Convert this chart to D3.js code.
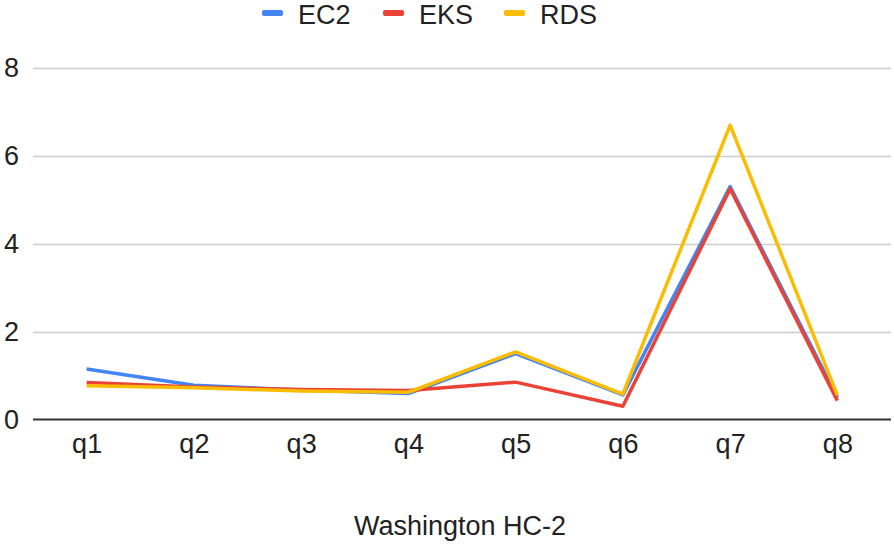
<!DOCTYPE html>
<html>
<head>
<meta charset="utf-8">
<script src="https://cdn.jsdelivr.net/npm/d3@7"></script>
<style>
  body { margin: 0; background: #fff; }
  svg { display: block; }
  text { font-family: "Liberation Sans", Arial, sans-serif; fill: #222; }
</style>
</head>
<body>
<svg id="chart" width="894" height="545"></svg>
<script>
const categories = ["q1", "q2", "q3", "q4", "q5", "q6", "q7", "q8"];
const ec2 = [1.15, 0.78, 0.67, 0.59, 1.5, 0.56, 5.3, 0.5];
const eks = [0.84, 0.74, 0.68, 0.66, 0.85, 0.3, 5.25, 0.43];
const rds = [0.77, 0.72, 0.65, 0.62, 1.54, 0.58, 6.7, 0.55];
const yTicks = [0, 2, 4, 6, 8];
const seriesNames = ["EC2", "EKS", "RDS"];
const seriesColors = ["#4285F4", "#EA4335", "#FBBC04"];
const xTitle = "Washington HC-2";

(function () {
const series = [ec2, eks, rds];
const svg = d3.select("#chart");
const mLeft = 33, mRight = 891, mTop = 68, mBottom = 419.5;

const x = d3.scalePoint().domain(categories).range([mLeft, mRight]).padding(0.5);
const y = d3.scaleLinear().domain([0, 8]).range([mBottom, mTop]);

// gridlines
svg.append("g").selectAll("line").data(yTicks.filter(d => d !== 0)).join("line")
  .attr("x1", mLeft).attr("x2", mRight)
  .attr("y1", d => Math.round(y(d)) + 0.5).attr("y2", d => Math.round(y(d)) + 0.5)
  .attr("stroke", "#cccccc").attr("stroke-width", 1.5);

// y tick labels
const yAxis = d3.axisLeft(y).tickValues(yTicks).tickSize(0).tickPadding(0);
const yg = svg.append("g").attr("transform", "translate(19,0)").call(yAxis);
yg.select(".domain").remove();
yg.selectAll("text").style("font-size", "27px").attr("fill", "#222")
  .style("font-family", "'Liberation Sans', Arial, sans-serif");

// x tick labels
const xAxis = d3.axisBottom(x).tickSize(0).tickPadding(0);
const xg = svg.append("g").attr("transform", "translate(0,434)").call(xAxis);
xg.select(".domain").remove();
xg.selectAll("text").style("font-size", "27px").attr("fill", "#222")
  .style("font-family", "'Liberation Sans', Arial, sans-serif");

// lines
const line = d3.line().x((d, i) => x(categories[i])).y(d => y(d));
series.forEach((s, i) => {
  svg.append("path").datum(s)
    .attr("fill", "none")
    .attr("stroke", seriesColors[i])
    .attr("stroke-width", 3.5)
    .attr("stroke-linejoin", "round")
    .attr("d", line);
});

// zero baseline
svg.append("line").attr("x1", mLeft).attr("x2", mRight)
  .attr("y1", y(0)).attr("y2", y(0))
  .attr("stroke", "#333333").attr("stroke-width", 2);

// x title
svg.append("text").attr("x", 460).attr("y", 535).attr("text-anchor", "middle")
  .style("font-size", "27px").text(xTitle);

// legend
const legendX = [262, 383, 504];
const lg = svg.append("g");
seriesNames.forEach((n, i) => {
  lg.append("rect").attr("x", legendX[i]).attr("y", 10).attr("width", 21).attr("height", 6)
    .attr("rx", 2).attr("fill", seriesColors[i]);
  lg.append("text").attr("x", legendX[i] + 36).attr("y", 24)
    .style("font-size", "27px").text(n);
});
})();
</script>
</body>
</html>
